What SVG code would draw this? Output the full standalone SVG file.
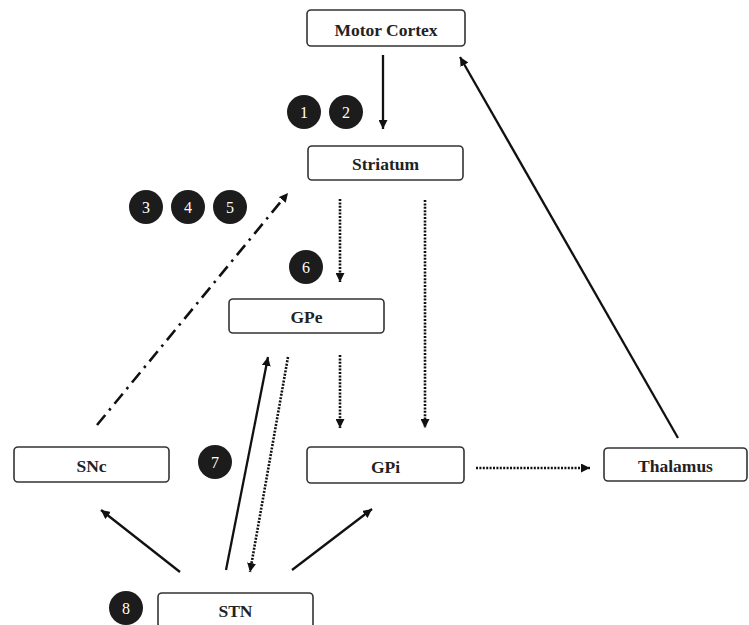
<svg xmlns="http://www.w3.org/2000/svg" width="749" height="625" viewBox="0 0 749 625">
<style>
.box{fill:#fff;stroke:#333;stroke-width:1.6}
.lbl{font-family:"Liberation Serif","Times New Roman",serif;font-weight:bold;font-size:17.5px;fill:#222;text-anchor:middle}
.num{fill:#1c1c1c}
.numt{font-family:"Liberation Serif","Times New Roman",serif;font-size:16px;fill:#fff;text-anchor:middle}
.c{fill:none;stroke:#111;stroke-width:2.3}
.dot{stroke-dasharray:2 1.4;stroke-width:2.6}
.dd{stroke-dasharray:13 6 2.5 6;stroke-width:2.6}
</style>
<defs>
<marker id="ah" viewBox="0 0 10 10" refX="10" refY="5" markerWidth="9" markerHeight="9" markerUnits="userSpaceOnUse" orient="auto">
<path d="M0,0 L10,5 L0,10 z" fill="#111"/>
</marker>
</defs>
<rect width="749" height="625" fill="#fff"/>
<g id="connectors">
<line class="c" x1="383" y1="55" x2="383" y2="129" marker-end="url(#ah)"/>
<line class="c" x1="678" y1="438" x2="460" y2="57" marker-end="url(#ah)"/>
<line class="c dd" x1="97" y1="425" x2="288" y2="193" marker-end="url(#ah)"/>
<line class="c dot" x1="340" y1="199" x2="340" y2="282" marker-end="url(#ah)"/>
<line class="c dot" x1="425" y1="200" x2="425" y2="428" marker-end="url(#ah)"/>
<line class="c dot" x1="340" y1="355" x2="340" y2="428" marker-end="url(#ah)"/>
<line class="c" x1="226" y1="570" x2="268" y2="357" marker-end="url(#ah)"/>
<line class="c dot" x1="288" y1="357" x2="250" y2="572" marker-end="url(#ah)"/>
<line class="c" x1="180" y1="572" x2="101" y2="510" marker-end="url(#ah)"/>
<line class="c" x1="292" y1="570" x2="372" y2="509" marker-end="url(#ah)"/>
<line class="c dot" x1="476" y1="468" x2="590" y2="468" marker-end="url(#ah)"/>
</g>
<g id="motor-cortex"><rect class="box" x="307" y="10" width="158" height="36" rx="4"/><text class="lbl" x="386" y="36" font-size="18">Motor Cortex</text></g>
<g id="striatum"><rect class="box" x="308" y="146" width="155" height="34" rx="4"/><text class="lbl" x="385.5" y="170">Striatum</text></g>
<g id="gpe"><rect class="box" x="229" y="299" width="155" height="34" rx="4"/><text class="lbl" x="306.5" y="323">GPe</text></g>
<g id="snc"><rect class="box" x="14" y="447" width="155" height="35" rx="4"/><text class="lbl" x="91.5" y="472">SNc</text></g>
<g id="gpi"><rect class="box" x="307" y="447" width="157" height="36" rx="4"/><text class="lbl" x="385.5" y="473">GPi</text></g>
<g id="thalamus"><rect class="box" x="604" y="448" width="143" height="33" rx="4"/><text class="lbl" x="675.5" y="472">Thalamus</text></g>
<g id="stn"><rect class="box" x="158" y="593" width="155" height="35" rx="4"/><text class="lbl" x="235.5" y="617">STN</text></g>
<g id="badges">
<g id="n1"><circle class="num" cx="304" cy="112" r="17"/><text class="numt" x="304" y="118">1</text></g>
<g id="n2"><circle class="num" cx="346" cy="112" r="17"/><text class="numt" x="346" y="118">2</text></g>
<g id="n3"><circle class="num" cx="146" cy="207" r="17"/><text class="numt" x="146" y="213">3</text></g>
<g id="n4"><circle class="num" cx="188" cy="207" r="17"/><text class="numt" x="188" y="213">4</text></g>
<g id="n5"><circle class="num" cx="230" cy="207" r="17"/><text class="numt" x="230" y="213">5</text></g>
<g id="n6"><circle class="num" cx="306" cy="267" r="17"/><text class="numt" x="306" y="273">6</text></g>
<g id="n7"><circle class="num" cx="215" cy="462" r="17"/><text class="numt" x="215" y="468">7</text></g>
<g id="n8"><circle class="num" cx="126" cy="608" r="17"/><text class="numt" x="126" y="614">8</text></g>
</g>
</svg>
